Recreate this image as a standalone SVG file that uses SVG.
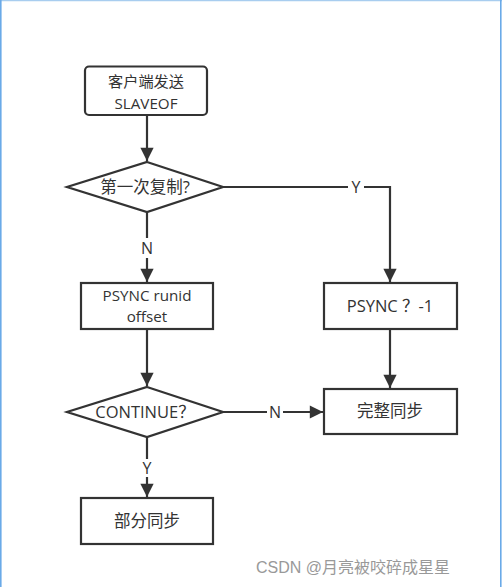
<svg xmlns="http://www.w3.org/2000/svg" width="502" height="587" viewBox="0 0 502 587">
<defs>
<style>
.box{fill:#fff;stroke:#333;stroke-width:2.2}
.t{font-family:"Open Sans","Noto Sans CJK SC",sans-serif;font-size:16.5px;fill:#333;text-anchor:middle}
.t2{font-family:"Open Sans","Noto Sans CJK SC",sans-serif;font-size:15.2px;fill:#333;text-anchor:middle}
.lbl{font-family:"Open Sans","Noto Sans CJK SC",sans-serif;font-size:16px;fill:#333;text-anchor:middle}
.ln{fill:none;stroke:#333;stroke-width:2.2}
</style>
<marker id="ah" viewBox="0 0 10 10" refX="10" refY="5" markerWidth="7" markerHeight="6" orient="auto" markerUnits="strokeWidth">
<path d="M0,0 L10,5 L0,10 z" fill="#333"/>
</marker>
</defs>
<rect x="0" y="0" width="502" height="587" fill="#fff"/>
<line x1="0" y1="0.5" x2="502" y2="0.5" stroke="#a8cdef" stroke-width="1.5"/>
<line x1="0.8" y1="0" x2="0.8" y2="587" stroke="#6aaae8" stroke-width="1.6"/>
<line x1="500.8" y1="0" x2="500.8" y2="587" stroke="#6aaae8" stroke-width="1.6"/>
<g id="connectors">
<line class="ln" x1="147" y1="115" x2="147" y2="161" marker-end="url(#ah)"/>
<line class="ln" x1="147" y1="212" x2="147" y2="282" marker-end="url(#ah)"/>
<rect x="139" y="238" width="16" height="20" fill="#fff"/>
<text class="lbl" x="147" y="254">N</text>
<polyline class="ln" points="223,187 390,187 390,282" marker-end="url(#ah)"/>
<rect x="348" y="178" width="16" height="18" fill="#fff"/>
<text class="lbl" x="356" y="193">Y</text>
<line class="ln" x1="390" y1="329" x2="390" y2="388" marker-end="url(#ah)"/>
<line class="ln" x1="147" y1="329" x2="147" y2="386" marker-end="url(#ah)"/>
<line class="ln" x1="223" y1="412" x2="323" y2="412" marker-end="url(#ah)"/>
<rect x="267" y="403" width="16" height="18" fill="#fff"/>
<text class="lbl" x="275" y="418">N</text>
<line class="ln" x1="147" y1="437" x2="147" y2="497" marker-end="url(#ah)"/>
<rect x="139" y="459" width="16" height="18" fill="#fff"/>
<text class="lbl" x="147" y="474">Y</text>
</g>
<g id="n1">
<rect class="box" x="85" y="66.5" width="122" height="48.5" rx="4"/>
<text class="t2" x="146" y="87">客户端发送</text>
<text class="t2" x="146" y="109">SLAVEOF</text>
</g>
<g id="d1">
<polygon class="box" points="147,162 223,187 147,212 67,187"/>
<text class="t" x="145" y="193">第一次复制?</text>
</g>
<g id="n2">
<rect class="box" x="81" y="283" width="132" height="46"/>
<text class="t2" x="147" y="300.5">PSYNC runid</text>
<text class="t2" x="147" y="322">offset</text>
</g>
<g id="n3">
<rect class="box" x="324" y="283" width="133" height="46"/>
<text class="t" x="390" y="312">PSYNC ？-1</text>
</g>
<g id="d2">
<polygon class="box" points="147,387 223,412 147,437 67,412"/>
<text class="t" x="145" y="418">CONTINUE？</text>
</g>
<g id="n4">
<rect class="box" x="324" y="389" width="133" height="45"/>
<text class="t" x="390" y="417">完整同步</text>
</g>
<g id="n5">
<rect class="box" x="81" y="498" width="132" height="46"/>
<text class="t" x="147" y="527">部分同步</text>
</g>
<text x="256" y="573" font-family="'Liberation Sans','Noto Sans CJK SC',sans-serif" font-size="16" fill="#999">CSDN @月亮被咬碎成星星</text>
</svg>
